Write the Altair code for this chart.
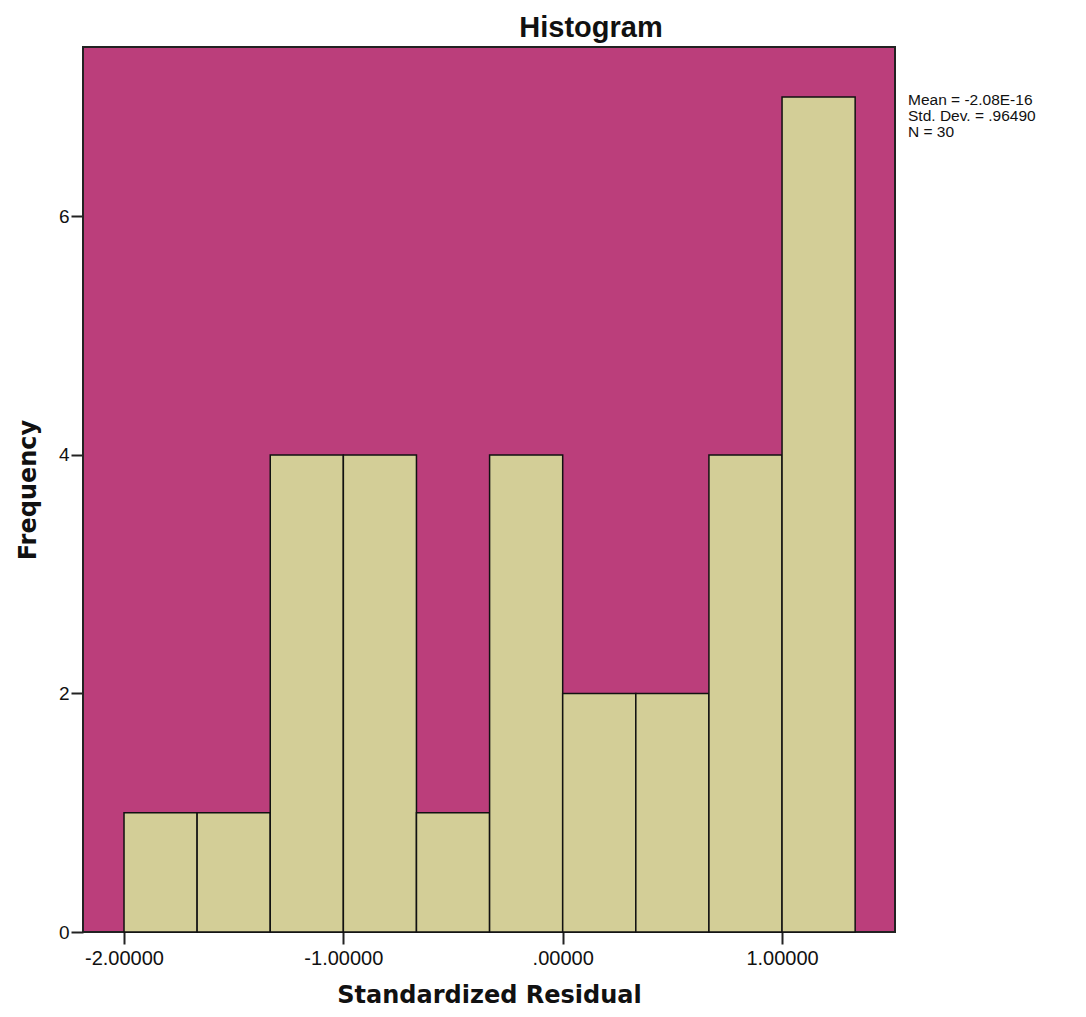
import altair as alt
import pandas as pd

# Histogram bins (Standardized Residual) and frequencies
bin_start = [-2.0, -1.6667, -1.3333, -1.0, -0.6667, -0.3333, 0.0, 0.3333, 0.6667, 1.0]
bin_end = [-1.6667, -1.3333, -1.0, -0.6667, -0.3333, 0.0, 0.3333, 0.6667, 1.0, 1.3333]
counts = [1, 1, 4, 4, 1, 4, 2, 2, 4, 7]

x_ticks = [-2.0, -1.0, 0.0, 1.0]
y_ticks = [0, 2, 4, 6]

stats_lines = ["Mean = -2.08E-16", "Std. Dev. = .96490", "N = 30"]

bars_df = pd.DataFrame({"start": bin_start, "end": bin_end, "count": counts})
stats_df = pd.DataFrame({"line": stats_lines, "row": [0, 1, 2]})

FONT = "Liberation Sans"
TFONT = "DejaVu Sans"

x_scale = alt.Scale(domain=[-2.187, 1.515], nice=False, zero=False)
y_scale = alt.Scale(domain=[0, 7.42], nice=False)

x_label_expr = ("datum.value == 0 ? '.00000' : "
                "replace(format(datum.value, '.5f'), '\u2212', '-')")

bars = alt.Chart(bars_df).mark_rect(
    fill="#D3CE97", stroke="#111111", strokeWidth=1.5
).encode(
    x=alt.X("start:Q", scale=x_scale,
            axis=alt.Axis(values=x_ticks, title="Standardized Residual",
                          labelExpr=x_label_expr,
                          tickSize=12, tickWidth=2, tickColor="#222222",
                          domain=False, grid=False,
                          labelFont=FONT, labelFontSize=20, labelColor="#111111",
                          labelPadding=4,
                          titleFont=TFONT, titleFontSize=24, titleFontWeight="bold",
                          titleColor="#111111", titlePadding=15)),
    x2="end:Q",
    y=alt.Y("count:Q", scale=y_scale,
            axis=alt.Axis(values=y_ticks, title="Frequency", format="d",
                          tickSize=12, tickWidth=2, tickColor="#222222",
                          domain=False, grid=False,
                          labelFont=FONT, labelFontSize=19, labelColor="#111111",
                          labelPadding=2,
                          titleFont=TFONT, titleFontSize=24, titleFontWeight="bold",
                          titleColor="#111111", titlePadding=18)),
    y2=alt.datum(0),
)

stats = alt.Chart(stats_df).mark_text(
    align="left", baseline="middle", font=FONT, fontSize=15.5, color="#111111"
).encode(
    x=alt.value(825),
    y=alt.Y("row:Q", scale=alt.Scale(domain=[0, 2], range=[53, 85]), axis=None),
    text="line:N",
)

chart = alt.layer(bars, stats).resolve_scale(y="independent").properties(
    width=812,
    height=885,
    autosize=alt.AutoSizeParams(type="none"),
    padding={"left": 75, "top": 39, "right": 183, "bottom": 77},
    title=alt.TitleParams("Histogram", font=FONT, fontSize=29, fontWeight="bold",
                          color="#111111", anchor="middle", dx=102, offset=4),
).configure_view(
    fill="#BB3E7B", stroke="#222222", strokeWidth=2
)

chart.save("out.html", embed_options={"renderer": "svg", "actions": False})
